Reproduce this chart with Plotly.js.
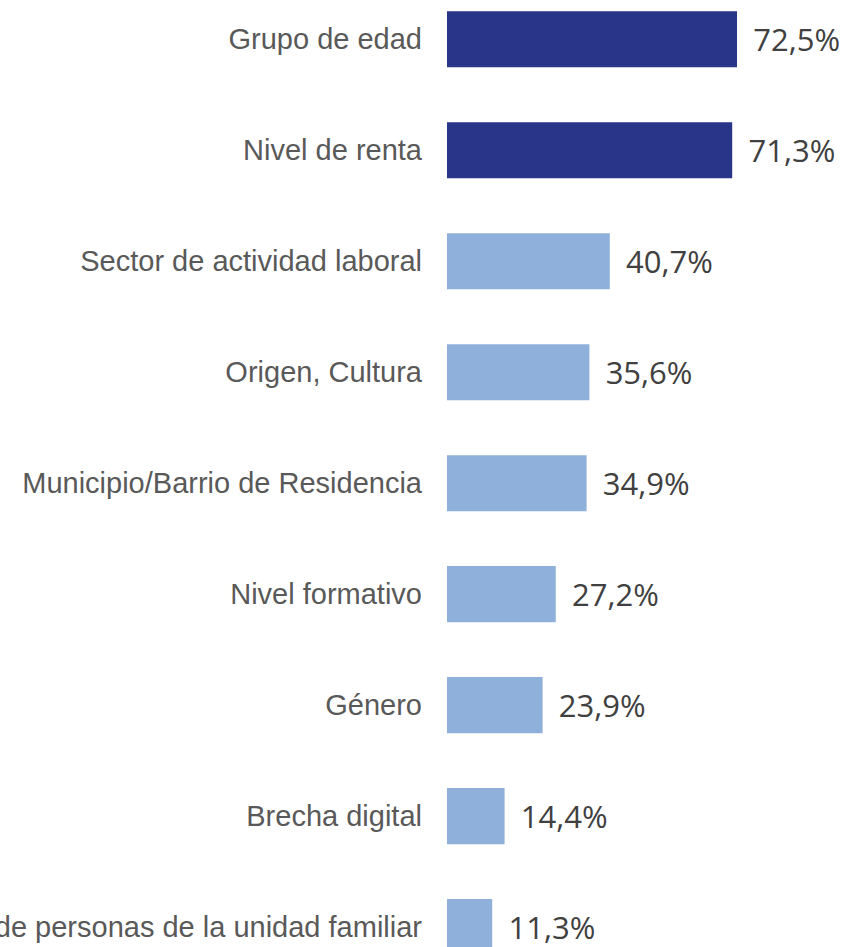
<!DOCTYPE html>
<html>
<head>
<meta charset="utf-8">
<script src="https://cdn.plot.ly/plotly-3.0.1.min.js"></script>
<style>
  html, body { margin: 0; padding: 0; background: #fff; overflow: hidden; }
  #chart { width: 849px; height: 947px; }
</style>
</head>
<body>
<div id="chart"></div>
<script>
// categorias y porcentajes
var categorias = [
  'Grupo de edad',
  'Nivel de renta',
  'Sector de actividad laboral',
  'Origen, Cultura',
  'Municipio/Barrio de Residencia',
  'Nivel formativo',
  'Género',
  'Brecha digital',
  'Número de personas de la unidad familiar'
];
var valores = [72.5, 71.3, 40.7, 35.6, 34.9, 27.2, 23.9, 14.4, 11.3];
var colores = ['#283589', '#283589', '#8FB0DB', '#8FB0DB', '#8FB0DB', '#8FB0DB', '#8FB0DB', '#8FB0DB', '#8FB0DB'];

var data = [{
  type: 'bar',
  orientation: 'h',
  x: valores,
  y: categorias,
  width: 0.505,
  marker: { color: colores },
  texttemplate: '\u00a0\u2006%{x:.1f}%',
  textposition: 'outside',
  cliponaxis: false,
  textfont: { family: 'Open Sans', size: 31, color: '#404040' },
  hoverinfo: 'none'
}];

var layout = {
  width: 849,
  height: 947,
  margin: { l: 447, r: 2, t: 0, b: 0 },
  separators: ',.',
  showlegend: false,
  paper_bgcolor: '#fff',
  plot_bgcolor: '#fff',
  xaxis: {
    range: [0, 100],
    visible: false,
    fixedrange: true
  },
  yaxis: {
    type: 'category',
    range: [8.179, -0.353],
    showgrid: false,
    zeroline: false,
    showline: false,
    ticks: '',
    ticklabelstandoff: 24,
    automargin: false,
    tickfont: { family: 'Liberation Sans, Arial', size: 29, color: '#595959' }
  }
};

Plotly.newPlot('chart', data, layout, { staticPlot: true });
</script>
</body>
</html>
